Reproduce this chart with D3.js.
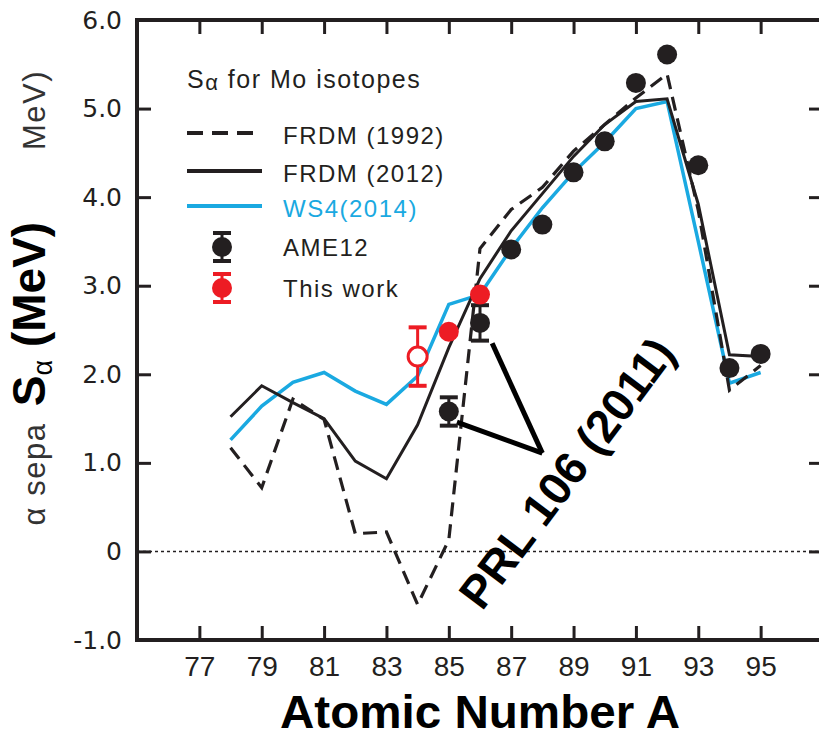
<!DOCTYPE html>
<html>
<head>
<meta charset="utf-8">
<script src="https://cdn.jsdelivr.net/npm/d3@7"></script>
<style>
  body { margin: 0; background: #ffffff; }
  svg { display: block; }
</style>
</head>
<body>
<svg id="chart" width="819" height="740"></svg>
<script>
// mass numbers of the Mo isotopes covered by the model curves
const massNumbers = [78, 79, 80, 81, 82, 83, 84, 85, 86, 87, 88, 89, 90, 91, 92, 93, 94, 95];
const frdm1992 = [1.17, 0.72, 1.72, 1.49, 0.20, 0.22, -0.60, 0.13, 3.42, 3.86, 4.11, 4.52, 4.82, 5.12, 5.39, 3.85, 1.82, 2.10];
const frdm2012 = [1.52, 1.87, 1.68, 1.50, 1.02, 0.82, 1.43, 2.30, 3.08, 3.62, 4.04, 4.46, 4.82, 5.08, 5.11, 3.92, 2.22, 2.20];
const ws4 = [1.26, 1.64, 1.91, 2.02, 1.81, 1.66, 1.98, 2.79, 2.90, 3.42, 3.88, 4.28, 4.62, 5.00, 5.08, 3.50, 1.90, 2.02];

// AME12 evaluated values
const ameA = [85, 86, 87, 88, 89, 90, 91, 92, 93, 94, 95];
const ameValue = [1.58, 2.58, 3.41, 3.69, 4.28, 4.63, 5.29, 5.61, 4.36, 2.07, 2.23];
const ameError = [0.16, 0.20, 0, 0, 0, 0, 0, 0, 0, 0, 0];

// this work
const workA = [84, 85, 86];
const workValue = [2.20, 2.48, 2.90];
const workError = [0.33, 0, 0];
const workOpen = [true, false, false];

const xTicks = [77, 79, 81, 83, 85, 87, 89, 91, 93, 95];
const yTicks = [-1, 0, 1, 2, 3, 4, 5, 6];
const yTickLabels = ["-1.0", "0", "1.0", "2.0", "3.0", "4.0", "5.0", "6.0"];

// PRL 106 (2011) pointer: apex and the two pointer starts, in data units
const prlApex = { a: 88.0, v: 1.11 };
const prlStarts = [{ a: 85.26, v: 1.46 }, { a: 86.39, v: 2.35 }];

const ink = "#231f20";
const red = "#ed1c24";
const blue = "#1aa9e1";

const svg = d3.select("#chart");

const x = d3.scaleLinear().domain([75, 97]).range([137, 823]);
const y = d3.scaleLinear().domain([-1, 6]).range([640, 20]);

// zero line
svg.append("line")
    .attr("x1", x(75)).attr("x2", x(97))
    .attr("y1", y(0)).attr("y2", y(0))
    .attr("stroke", ink)
    .attr("stroke-width", 1.4)
    .attr("stroke-dasharray", "3,3");

// axes (ticks point inwards)
const tickStyle = (g) => {
    g.select(".domain").remove();
    g.selectAll(".tick line").attr("stroke", ink).attr("stroke-width", 3);
};

svg.append("g")
    .attr("transform", `translate(0,${y(-1)})`)
    .call(d3.axisBottom(x).tickValues(xTicks).tickSize(-14).tickPadding(16))
    .call(tickStyle)
    .selectAll("text")
    .attr("fill", ink)
    .style("font-family", "'Liberation Sans Narrow', 'Arial Narrow', Arial, sans-serif")
    .style("font-size", "28px");

svg.append("g")
    .attr("transform", `translate(0,${y(6)})`)
    .call(d3.axisTop(x).tickValues(xTicks).tickSize(-14).tickFormat(""))
    .call(tickStyle);

svg.append("g")
    .attr("transform", `translate(${x(75)},0)`)
    .call(d3.axisLeft(y).tickValues(yTicks).tickSize(-14).tickPadding(15)
        .tickFormat((d, i) => yTickLabels[i]))
    .call(tickStyle)
    .selectAll("text")
    .attr("fill", ink)
    .style("font-family", "'DejaVu Sans', Verdana, sans-serif")
    .style("font-size", "25px");

svg.append("g")
    .attr("transform", `translate(${x(97)},0)`)
    .call(d3.axisRight(y).tickValues(yTicks).tickSize(-14).tickFormat(""))
    .call(tickStyle);

// frame
svg.append("rect")
    .attr("x", x(75)).attr("y", y(6))
    .attr("width", x(97) - x(75))
    .attr("height", y(-1) - y(6))
    .attr("fill", "none")
    .attr("stroke", ink)
    .attr("stroke-width", 4);

// model curves
const line = d3.line()
    .x((d) => x(d[0]))
    .y((d) => y(d[1]));

const pairs = (vals) => massNumbers.map((a, i) => [a, vals[i]]);

svg.append("path")
    .datum(pairs(ws4))
    .attr("d", line)
    .attr("fill", "none")
    .attr("stroke", blue)
    .attr("stroke-width", 3.5);

svg.append("path")
    .datum(pairs(frdm2012))
    .attr("d", line)
    .attr("fill", "none")
    .attr("stroke", ink)
    .attr("stroke-width", 3);

svg.append("path")
    .datum(pairs(frdm1992))
    .attr("d", line)
    .attr("fill", "none")
    .attr("stroke", ink)
    .attr("stroke-width", 3.2)
    .attr("stroke-dasharray", "14,8");

// PRL pointer lines
prlStarts.forEach((s) => {
    svg.append("line")
        .attr("x1", x(s.a)).attr("y1", y(s.v))
        .attr("x2", x(prlApex.a)).attr("y2", y(prlApex.v))
        .attr("stroke", "#000")
        .attr("stroke-width", 5);
});

// error bar + marker
function drawPoint(g, cx, cy, lo, hi, color, open) {
    if (hi !== lo) {
        g.append("line")
            .attr("x1", cx).attr("x2", cx)
            .attr("y1", lo).attr("y2", hi)
            .attr("stroke", color).attr("stroke-width", 3);
        [lo, hi].forEach((yy) => {
            g.append("line")
                .attr("x1", cx - 9).attr("x2", cx + 9)
                .attr("y1", yy).attr("y2", yy)
                .attr("stroke", color).attr("stroke-width", 4);
        });
    }
    g.append("circle")
        .attr("cx", cx).attr("cy", cy)
        .attr("r", open ? 9.5 : 10)
        .attr("fill", open ? "#fff" : color)
        .attr("stroke", open ? color : "none")
        .attr("stroke-width", 3);
}

const pts = svg.append("g");
ameA.forEach((a, i) => {
    drawPoint(pts, x(a), y(ameValue[i]),
        y(ameValue[i] - ameError[i]), y(ameValue[i] + ameError[i]), ink, false);
});
workA.forEach((a, i) => {
    drawPoint(pts, x(a), y(workValue[i]),
        y(workValue[i] - workError[i]), y(workValue[i] + workError[i]), red, workOpen[i]);
});

// PRL label
svg.append("text")
    .attr("transform", "translate(482,612) rotate(-53)")
    .attr("font-family", "Arial, 'Liberation Sans', sans-serif")
    .attr("font-weight", "bold")
    .attr("font-size", 46)
    .attr("fill", "#000")
    .text("PRL 106 (2011)");

// legend
const legend = svg.append("g")
    .style("font-family", "Arial, 'Liberation Sans', sans-serif")
    .style("font-size", "24px")
    .style("letter-spacing", "1.5px")
    .attr("fill", ink);

const title = legend.append("text").attr("x", 187).attr("y", 88).style("font-size", "25px");
title.append("tspan").text("S");
title.append("tspan").text("α").style("font-size", "22px").attr("dy", 2);
title.append("tspan").text(" for Mo isotopes").attr("dy", -2);

const legendLines = [
    { label: "FRDM (1992)", color: ink, dash: "16,9", y: 133 },
    { label: "FRDM (2012)", color: ink, dash: null, y: 171 },
    { label: "WS4(2014)", color: blue, dash: null, y: 206 },
];
legendLines.forEach((d) => {
    legend.append("line")
        .attr("x1", 187).attr("x2", 262)
        .attr("y1", d.y).attr("y2", d.y)
        .attr("stroke", d.color)
        .attr("stroke-width", 4)
        .attr("stroke-dasharray", d.dash);
    legend.append("text")
        .attr("x", 283).attr("y", d.y + 11)
        .attr("fill", d.color)
        .text(d.label);
});

const legendMarks = [
    { label: "AME12", color: ink, y: 247 },
    { label: "This work", color: red, y: 288 },
];
legendMarks.forEach((d) => {
    drawPoint(legend, 222, d.y, d.y + 14, d.y - 14, d.color, false);
    legend.append("text")
        .attr("x", 283).attr("y", d.y + 9)
        .attr("fill", ink)
        .text(d.label);
});

// y axis title
svg.append("text")
    .attr("transform", "translate(45,474) rotate(-90)")
    .attr("text-anchor", "middle")
    .attr("font-family", "Arial, 'Liberation Sans', sans-serif")
    .attr("font-size", 31)
    .attr("letter-spacing", 1.5)
    .attr("fill", "#333")
    .text("α sepa");

const yTitle = svg.append("text")
    .attr("transform", "translate(45,314) rotate(-90)")
    .attr("text-anchor", "middle")
    .attr("font-family", "Arial, 'Liberation Sans', sans-serif")
    .attr("font-weight", "bold")
    .attr("font-size", 46)
    .attr("fill", "#000");
yTitle.append("tspan").text("S");
yTitle.append("tspan").text("α").attr("font-size", 27).attr("font-weight", "normal").attr("dy", 7);
yTitle.append("tspan").text(" (MeV)").attr("dy", -7);

svg.append("text")
    .attr("transform", "translate(45,110) rotate(-90)")
    .attr("text-anchor", "middle")
    .attr("font-family", "Arial, 'Liberation Sans', sans-serif")
    .attr("font-size", 31)
    .attr("letter-spacing", 1.5)
    .attr("fill", "#333")
    .text("MeV)");

// x axis title
svg.append("text")
    .attr("x", 480).attr("y", 728)
    .attr("text-anchor", "middle")
    .attr("font-family", "Arial, 'Liberation Sans', sans-serif")
    .attr("font-weight", "bold")
    .attr("font-size", 46)
    .attr("textLength", 400)
    .attr("lengthAdjust", "spacingAndGlyphs")
    .attr("fill", "#000")
    .text("Atomic Number A");
</script>
</body>
</html>
